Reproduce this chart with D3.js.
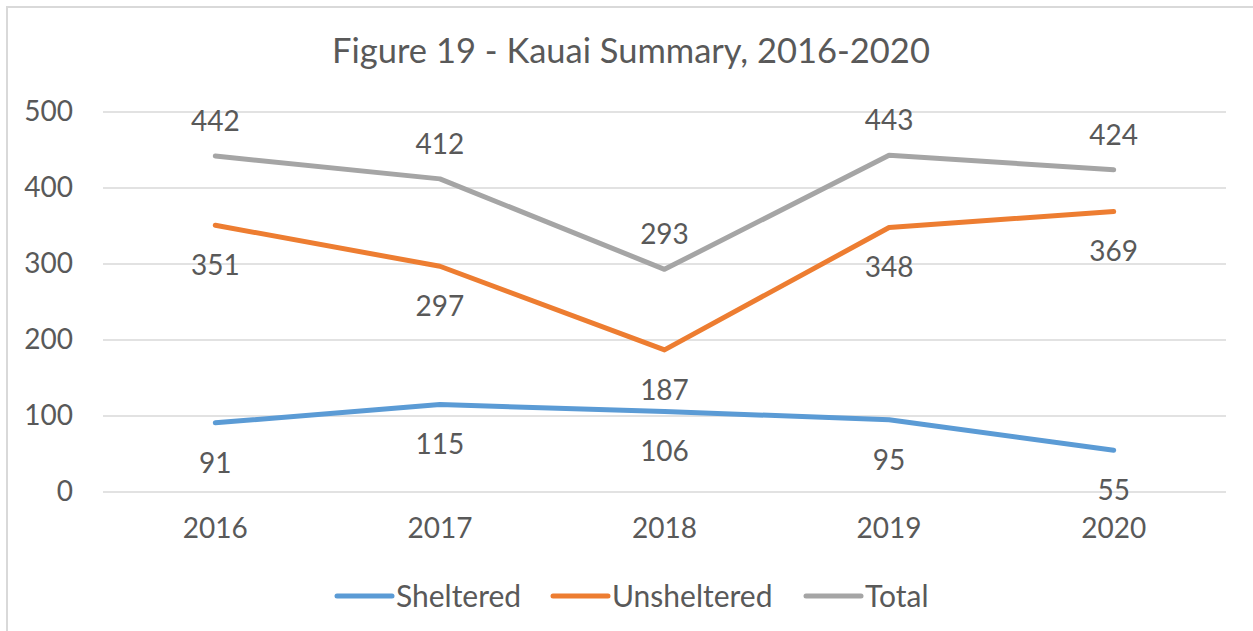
<!DOCTYPE html>
<html><head><meta charset="utf-8">
<script src="https://cdn.jsdelivr.net/npm/d3@7"></script>
<style>
html,body{margin:0;padding:0;background:#fff;}
svg{display:block;font-family:Lato,"Open Sans",sans-serif;}
</style></head>
<body>
<svg id="c" width="1253" height="631"></svg>
<script>
const years = ["2016","2017","2018","2019","2020"];
const sheltered = [91,115,106,95,55];
const unsheltered = [351,297,187,348,369];
const total = [442,412,293,443,424];
const yTicks = [0,100,200,300,400,500];
const seriesNames = ["Sheltered","Unsheltered","Total"];
const colors = ["#5b9bd5","#ed7d31","#a5a5a5"];

(function(){
const svg = d3.select("#c");
const textColor = "#595959";

// chart border
svg.append("rect").attr("x",7).attr("y",7).attr("width",1260).attr("height",640)
  .attr("fill","none").attr("stroke","#d9d9d9").attr("stroke-width",2);

const pLeft = 103, pRight = 1226, pTop = 112, pBottom = 492;
const x = d3.scaleBand().domain(years).range([pLeft,pRight]);
const y = d3.scaleLinear().domain([0,500]).range([pBottom,pTop]);

// title
svg.append("text").attr("x",631).attr("y",63).attr("text-anchor","middle")
  .attr("fill",textColor).attr("font-size",34.5).text("Figure 19 - Kauai Summary, 2016-2020");

// gridlines
svg.append("g").selectAll("line").data(yTicks).join("line")
  .attr("x1",pLeft).attr("x2",pRight).attr("y1",d=>y(d)).attr("y2",d=>y(d))
  .attr("stroke","#d9d9d9").attr("stroke-width",1.5);

// y axis
const yAxis = d3.axisLeft(y).tickValues(yTicks).tickSize(0).tickPadding(0);
const gy = svg.append("g").attr("transform",`translate(73,0)`).call(yAxis);
gy.select(".domain").remove();
gy.selectAll("text").attr("fill",textColor).attr("font-size",28).attr("font-family","Lato,'Open Sans',sans-serif");

// x axis
const xAxis = d3.axisBottom(x).tickSize(0).tickPadding(0);
const gx = svg.append("g").attr("transform",`translate(0,${pBottom+26})`).call(xAxis);
gx.select(".domain").remove();
gx.selectAll("text").attr("fill",textColor).attr("font-size",28).attr("font-family","Lato,'Open Sans',sans-serif");

const series = [sheltered, unsheltered, total];
const cx = d => x(d) + x.bandwidth()/2;
const line = d3.line().x((d,i)=>cx(years[i])).y(d=>y(d));

series.forEach((s,k)=>{
  svg.append("path").datum(s).attr("d",line).attr("fill","none")
    .attr("stroke",colors[k]).attr("stroke-width",5).attr("stroke-linecap","round").attr("stroke-linejoin","round");
});

// data labels: sheltered below, unsheltered below, total above
const offsets = [40, 40, -35];
series.forEach((s,k)=>{
  svg.append("g").selectAll("text").data(s).join("text")
    .attr("x",(d,i)=>cx(years[i])).attr("y",d=>y(d)+offsets[k])
    .attr("dy","0.35em").attr("text-anchor","middle")
    .attr("fill",textColor).attr("font-size",28).text(d=>d);
});

// legend
const legX = [337,553,806];
const lg = svg.append("g");
seriesNames.forEach((n,k)=>{
  lg.append("line").attr("x1",legX[k]).attr("x2",legX[k]+55).attr("y1",596).attr("y2",596)
    .attr("stroke",colors[k]).attr("stroke-width",5).attr("stroke-linecap","round");
  lg.append("text").attr("x",legX[k]+59).attr("y",596).attr("dy","0.35em")
    .attr("fill",textColor).attr("font-size",30).text(n);
});
})();
</script>
</body></html>
